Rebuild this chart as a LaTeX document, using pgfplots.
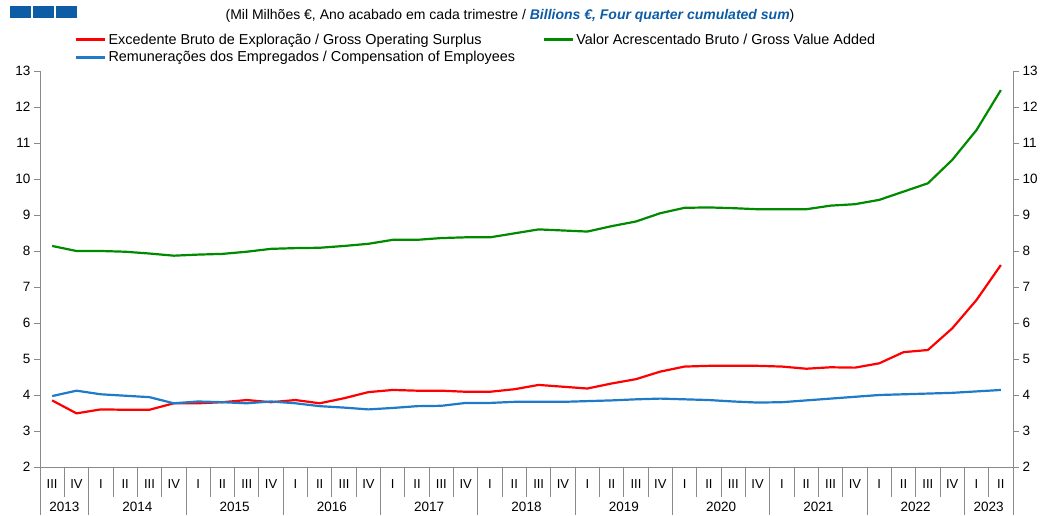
\documentclass[border=0pt]{standalone}
\usepackage{fontspec}
\setmainfont{Liberation Sans}
\usepackage{pgfplots}
\usepackage{pgfplotstable}
\pgfplotsset{compat=1.18}

\definecolor{gosred}{HTML}{FF0000}
\definecolor{gvagreen}{HTML}{008A00}
\definecolor{coeblue}{HTML}{1F7BC8}
\definecolor{hdrblue}{HTML}{0D5CA6}
\definecolor{axgray}{HTML}{8A8A8A}

% quarter index, gross operating surplus, gross value added, compensation of employees
\pgfplotstableread{
q gos gva coe
0 3.85 8.14 3.97
1 3.49 8.00 4.12
2 3.60 8.00 4.02
3 3.59 7.98 3.98
4 3.59 7.93 3.94
5 3.77 7.87 3.77
6 3.77 7.90 3.82
7 3.80 7.92 3.80
8 3.86 7.98 3.77
9 3.80 8.06 3.82
10 3.86 8.08 3.77
11 3.77 8.09 3.69
12 3.91 8.14 3.65
13 4.08 8.20 3.60
14 4.14 8.31 3.64
15 4.12 8.31 3.69
16 4.12 8.36 3.70
17 4.09 8.38 3.78
18 4.09 8.38 3.78
19 4.16 8.49 3.81
20 4.28 8.60 3.81
21 4.23 8.57 3.81
22 4.18 8.54 3.83
23 4.32 8.69 3.85
24 4.44 8.82 3.88
25 4.65 9.05 3.90
26 4.79 9.20 3.88
27 4.81 9.21 3.86
28 4.81 9.19 3.82
29 4.81 9.16 3.79
30 4.79 9.16 3.80
31 4.73 9.16 3.85
32 4.77 9.26 3.90
33 4.76 9.30 3.95
34 4.88 9.42 4.00
35 5.19 9.65 4.02
36 5.25 9.88 4.04
37 5.85 10.53 4.06
38 6.64 11.36 4.10
39 7.61 12.47 4.14
}\quarters

\begin{document}
\begin{tikzpicture}[x=1pt,y=1pt]
\begin{axis}[
  at={(40pt,48pt)}, anchor=south west,
  scale only axis, width=973pt, height=396pt,
  xmin=-0.5, xmax=39.5, ymin=2, ymax=13,
  axis x line*=bottom,
  axis line style={axgray, line width=0.9pt},
  clip=false,
  ytick={2,...,13},
  yticklabel pos=left,
  tick align=outside,
  major tick length=6pt,
  y tick style={axgray, line width=0.9pt},
  x tick style={draw=none},
  xtick={0,...,39},
  xticklabels={III,IV,I,II,III,IV,I,II,III,IV,I,II,III,IV,I,II,III,IV,I,II,III,IV,I,II,III,IV,I,II,III,IV,I,II,III,IV,I,II,III,IV,I,II},
  x tick label style={anchor=base, yshift=-15pt, font=\fontsize{13}{13}\selectfont},
  y tick label style={font=\fontsize{13.5}{13.5}\selectfont},
  /pgf/number format/assume math mode=true,
  legend columns=2,
  legend cell align=left,
  legend image code/.code={\draw[#1] (0pt,0pt) -- (29pt,0pt);},
  legend style={at={(0.033,1.105)}, anchor=north west, draw=none, fill=none,
    font=\fontsize{14.4}{14.4}\selectfont, row sep=2pt,
    /tikz/every even column/.append style={column sep=26pt}},
]
  \addplot[gosred, line width=2.2pt] table[x=q, y=gos] {\quarters};
  \addlegendentry{Excedente Bruto de Exploração / Gross Operating Surplus}
  \addplot[gvagreen, line width=2.2pt] table[x=q, y=gva] {\quarters};
  \addlegendentry{Valor Acrescentado Bruto / Gross Value Added}
  \addplot[coeblue, line width=2.2pt] table[x=q, y=coe] {\quarters};
  \addlegendentry{Remunerações dos Empregados / Compensation of Employees}

  % category boxes below the axis
  \pgfplotsinvokeforeach{0.5,1.5,...,38.5}{
    \draw[axgray, line width=0.9pt] (axis cs:#1,2) -- ++(0pt,-30pt);
  }
  \pgfplotsinvokeforeach{-0.5,1.5,5.5,9.5,13.5,17.5,21.5,25.5,29.5,33.5,37.5,39.5}{
    \draw[axgray, line width=0.9pt] (axis cs:#1,2) -- ++(0pt,-48pt);
  }
  \node[anchor=base, font=\fontsize{13.5}{13.5}\selectfont] at (axis cs:0.5,2) [yshift=-44pt] {2013};
  \node[anchor=base, font=\fontsize{13.5}{13.5}\selectfont] at (axis cs:3.5,2) [yshift=-44pt] {2014};
  \node[anchor=base, font=\fontsize{13.5}{13.5}\selectfont] at (axis cs:7.5,2) [yshift=-44pt] {2015};
  \node[anchor=base, font=\fontsize{13.5}{13.5}\selectfont] at (axis cs:11.5,2) [yshift=-44pt] {2016};
  \node[anchor=base, font=\fontsize{13.5}{13.5}\selectfont] at (axis cs:15.5,2) [yshift=-44pt] {2017};
  \node[anchor=base, font=\fontsize{13.5}{13.5}\selectfont] at (axis cs:19.5,2) [yshift=-44pt] {2018};
  \node[anchor=base, font=\fontsize{13.5}{13.5}\selectfont] at (axis cs:23.5,2) [yshift=-44pt] {2019};
  \node[anchor=base, font=\fontsize{13.5}{13.5}\selectfont] at (axis cs:27.5,2) [yshift=-44pt] {2020};
  \node[anchor=base, font=\fontsize{13.5}{13.5}\selectfont] at (axis cs:31.5,2) [yshift=-44pt] {2021};
  \node[anchor=base, font=\fontsize{13.5}{13.5}\selectfont] at (axis cs:35.5,2) [yshift=-44pt] {2022};
  \node[anchor=base, font=\fontsize{13.5}{13.5}\selectfont] at (axis cs:38.5,2) [yshift=-44pt] {2023};
\end{axis}
% right-hand tick labels
\begin{axis}[
  at={(40pt,48pt)}, anchor=south west,
  scale only axis, width=973pt, height=396pt,
  xmin=-0.5, xmax=39.5, ymin=2, ymax=13,
  axis x line=none,
  axis y line*=right,
  axis line style={axgray, line width=0.9pt},
  ytick={2,...,13},
  tick align=outside,
  major tick length=6pt,
  y tick style={axgray, line width=0.9pt},
  y tick label style={font=\fontsize{13.5}{13.5}\selectfont},
  /pgf/number format/assume math mode=true,
]
\end{axis}
% header: blue squares and units line
\fill[hdrblue] (10,497) rectangle (31,509);
\fill[hdrblue] (33,497) rectangle (54,509);
\fill[hdrblue] (56,497) rectangle (77,509);
\node[font=\fontsize{14}{14}\selectfont, anchor=base] at (510,495)
  {(Mil Milhões €, Ano acabado em cada trimestre / {\color{hdrblue}\bfseries\itshape Billions €, Four quarter cumulated sum})};
\pgfresetboundingbox
\path[use as bounding box] (0,0) rectangle (1049,515);
\end{tikzpicture}
\end{document}
